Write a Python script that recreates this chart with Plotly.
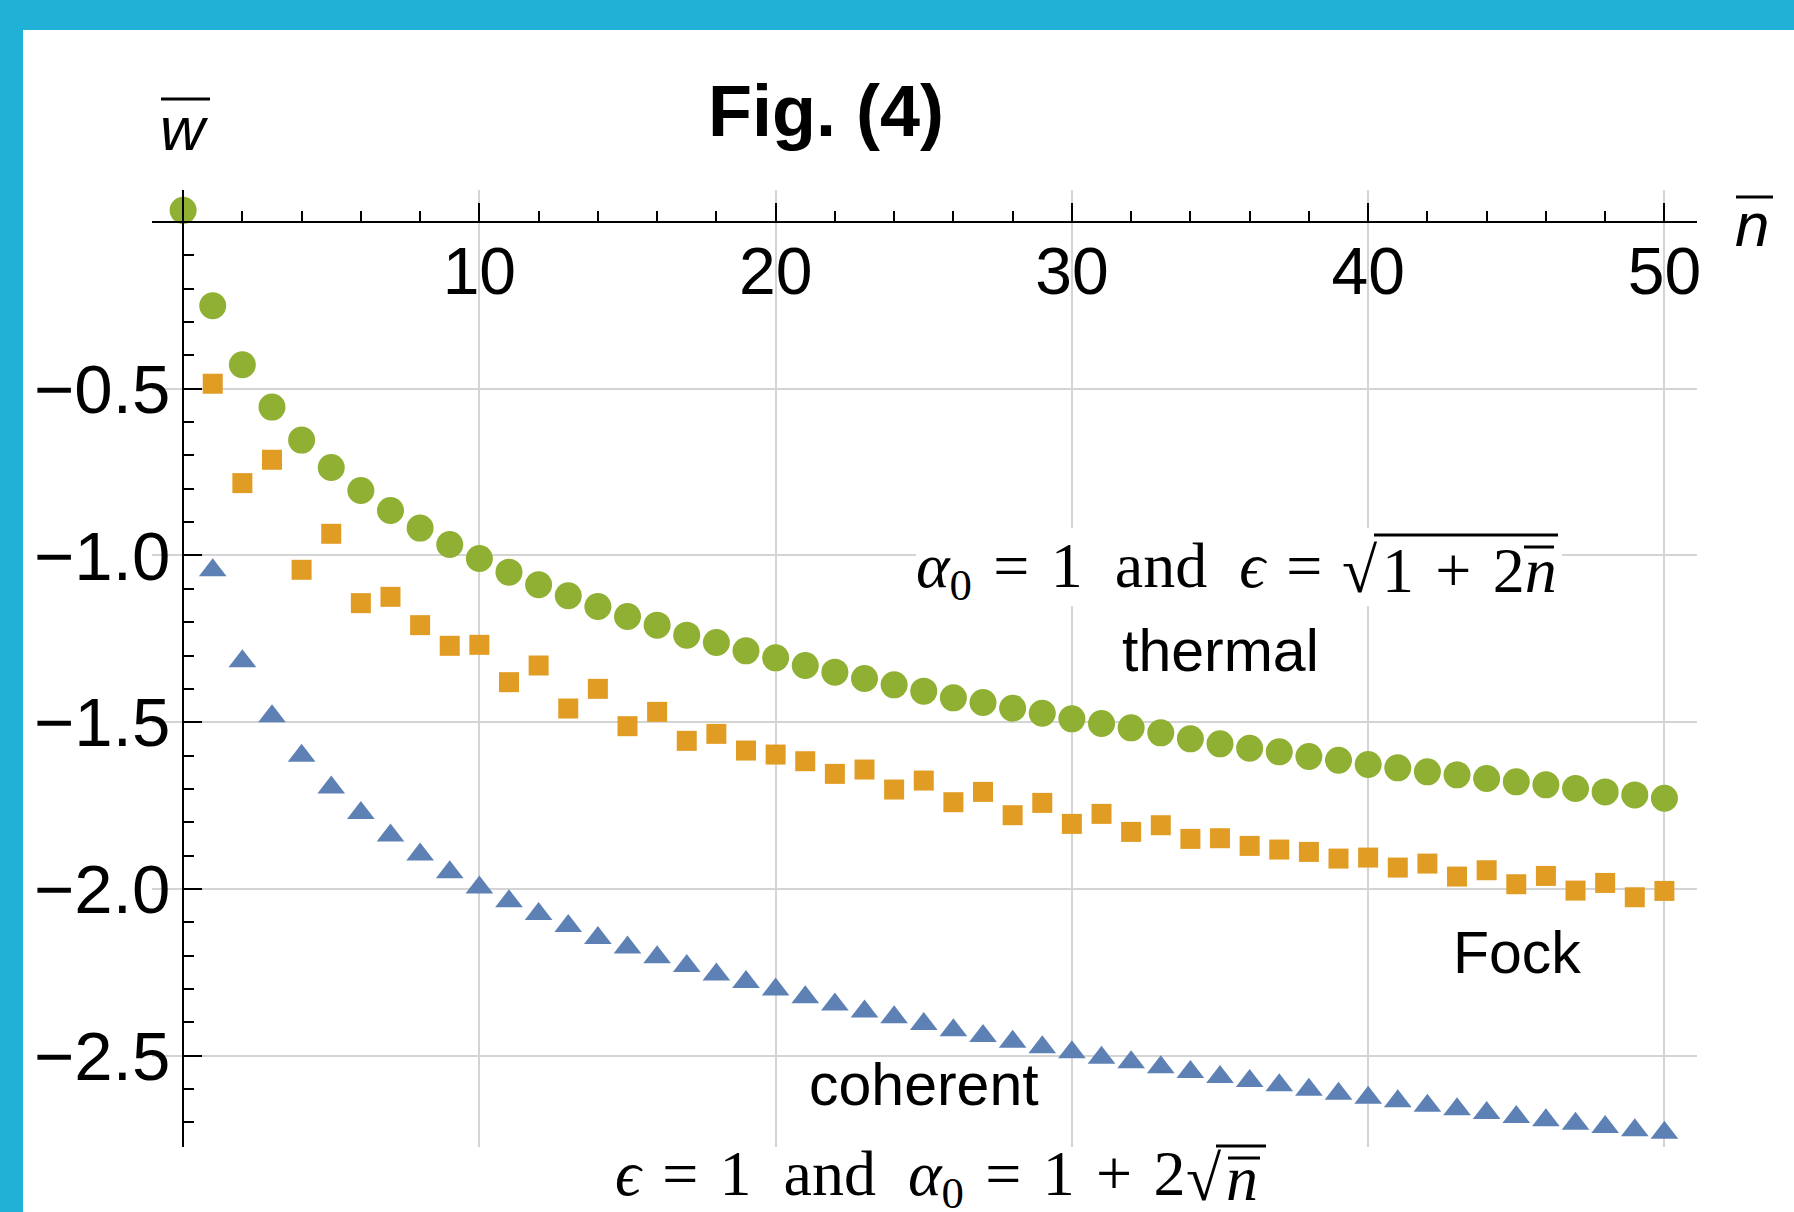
import plotly.graph_objects as go

# ---------------- data ----------------
thermal_n = list(range(0, 51))
thermal_w = [0.035, -0.251, -0.428, -0.555, -0.654, -0.736, -0.805, -0.865, -0.918, -0.967,
             -1.009, -1.050, -1.088, -1.121, -1.153, -1.183, -1.209, -1.239, -1.261, -1.286,
             -1.307, -1.330, -1.350, -1.369, -1.388, -1.407, -1.427, -1.441, -1.458, -1.473,
             -1.490, -1.504, -1.517, -1.532, -1.550, -1.565, -1.578, -1.589, -1.603, -1.614,
             -1.627, -1.637, -1.649, -1.658, -1.669, -1.679, -1.688, -1.699, -1.709, -1.718,
             -1.728]

fock_n = list(range(1, 51))
fock_w = [-0.485, -0.783, -0.713, -1.043, -0.935, -1.143, -1.124, -1.209, -1.271, -1.268,
          -1.380, -1.330, -1.459, -1.400, -1.512, -1.469, -1.556, -1.535, -1.585, -1.597,
          -1.617, -1.655, -1.642, -1.702, -1.675, -1.740, -1.709, -1.779, -1.742, -1.805,
          -1.775, -1.829, -1.809, -1.850, -1.848, -1.871, -1.882, -1.889, -1.909, -1.906,
          -1.936, -1.924, -1.963, -1.944, -1.986, -1.961, -2.005, -1.982, -2.025, -2.006]

coherent_n = list(range(1, 51))
coherent_w = [-1.044, -1.317, -1.482, -1.601, -1.696, -1.772, -1.840, -1.897, -1.950, -1.996,
              -2.037, -2.075, -2.111, -2.147, -2.176, -2.205, -2.231, -2.257, -2.279, -2.302,
              -2.325, -2.347, -2.368, -2.385, -2.405, -2.424, -2.441, -2.458, -2.475, -2.490,
              -2.506, -2.520, -2.535, -2.549, -2.564, -2.576, -2.589, -2.602, -2.614, -2.626,
              -2.637, -2.650, -2.661, -2.672, -2.684, -2.694, -2.704, -2.714, -2.724, -2.731]

x_tickvals = [10, 20, 30, 40, 50]
x_ticktext = ["10", "20", "30", "40", "50"]
y_tickvals = [-0.5, -1.0, -1.5, -2.0, -2.5]
y_ticktext = ["\u22120.5", "\u22121.0", "\u22121.5", "\u22122.0", "\u22122.5"]

# ---------------- layout geometry ----------------
W, H = 1794, 1212
L, R, T, B = 152, 97, 190, 65
PW, PH = W - L - R, H - T - B
XR = [-1.05, 51.1]
YR = [-2.774, 0.096]


def px(x):
    return (x - L) / PW


def py(y):
    return (H - B - y) / PH


BLUE = "#5E81B5"
ORANGE = "#E19C24"
GREEN = "#8FB032"
FRAME = "#22B1D6"
GRID = "#D4D4D4"
SANS = "Liberation Sans, Arial, sans-serif"
SERIF = "Liberation Serif, Times New Roman, serif"
EN = "\u2002"   # en space
TH = "\u2004"   # three-per-em space

fig = go.Figure()
fig.add_trace(go.Scatter(x=coherent_n, y=coherent_w, mode="markers", name="coherent",
                         marker=dict(symbol="triangle-up", size=24, color=BLUE), cliponaxis=False))
fig.add_trace(go.Scatter(x=fock_n, y=fock_w, mode="markers", name="Fock",
                         marker=dict(symbol="square", size=20, color=ORANGE), cliponaxis=False))
fig.add_trace(go.Scatter(x=thermal_n, y=thermal_w, mode="markers", name="thermal",
                         marker=dict(symbol="circle", size=27, color=GREEN), cliponaxis=False))

x_pos = (0 - YR[0]) / (YR[1] - YR[0])
y_pos = (0 - XR[0]) / (XR[1] - XR[0])

fig.update_layout(
    width=W, height=H,
    margin=dict(l=L, r=R, t=T, b=B, pad=0),
    paper_bgcolor="white", plot_bgcolor="white",
    showlegend=False,
    xaxis=dict(range=XR, anchor="free", position=x_pos, side="bottom",
               showline=True, linecolor="black", linewidth=2,
               ticks="inside", ticklen=18, tickwidth=2, tickcolor="black",
               tickmode="array", tickvals=x_tickvals, ticktext=x_ticktext,
               tickfont=dict(family=SANS, size=66, color="black"),
               ticklabelstandoff=-8,
               showgrid=True, gridcolor=GRID, gridwidth=2, zeroline=False,
               minor=dict(tickmode="linear", tick0=0, dtick=2, ticks="inside",
                          ticklen=10, tickwidth=2, tickcolor="black", showgrid=False)),
    yaxis=dict(range=YR, anchor="free", position=y_pos, side="left",
               showline=True, linecolor="black", linewidth=2,
               ticks="inside", ticklen=18, tickwidth=2, tickcolor="black",
               tickmode="array", tickvals=y_tickvals, ticktext=y_ticktext,
               tickfont=dict(family=SANS, size=69, color="black"),
               ticklabelstandoff=-2,
               showgrid=True, gridcolor=GRID, gridwidth=2, zeroline=False,
               minor=dict(tickmode="linear", tick0=0, dtick=0.1, ticks="inside",
                          ticklen=10, tickwidth=2, tickcolor="black", showgrid=False)),
)

# blue frame (top and left bands)
fig.add_shape(type="rect", xref="paper", yref="paper", layer="below",
              x0=px(0), x1=px(W), y0=py(30), y1=py(0), fillcolor=FRAME, line_width=0)
fig.add_shape(type="rect", xref="paper", yref="paper", layer="below",
              x0=px(0), x1=px(23), y0=py(H), y1=py(0), fillcolor=FRAME, line_width=0)
# white box behind the upper formula
fig.add_shape(type="rect", xref="paper", yref="paper", layer="above",
              x0=px(916), x1=px(1562), y0=py(606), y1=py(528), fillcolor="white", line_width=0)

ann = []
ann.append(dict(text="<b>Fig. (4)</b>", x=px(826), y=py(111),
                font=dict(family=SANS, size=72, color="black")))
ann.append(dict(text="<i>w</i>", x=px(184), y=py(129),
                font=dict(family=SANS, size=62, color="black")))
ann.append(dict(text="<i>n</i>", x=px(1752), y=py(224),
                font=dict(family=SANS, size=62, color="black")))
ann.append(dict(text="thermal", x=px(1220), y=py(651),
                font=dict(family=SANS, size=59, color="black")))
ann.append(dict(text="Fock", x=px(1517), y=py(953),
                font=dict(family=SANS, size=59, color="black")))
ann.append(dict(text="coherent", x=px(924), y=py(1085),
                font=dict(family=SANS, size=59, color="black")))

# upper formula: alpha_0 = 1 and epsilon = sqrt(1 + 2 n)
ann.append(dict(text=f"<i>\u03b1</i><sub>0</sub>{TH}={TH}1{EN}and{EN}<i>\u03f5</i>{TH}=",
                x=px(1324), y=py(570), xanchor="right",
                font=dict(family=SERIF, size=64, color="black")))
ann.append(dict(text="\u221a", x=px(1380), y=py(570), xanchor="right",
                font=dict(family=SERIF, size=64, color="black")))
ann.append(dict(text=f"1{TH}+{TH}2<i>n</i>", x=px(1380), y=py(570), xanchor="left",
                font=dict(family=SERIF, size=64, color="black")))
# lower formula: epsilon = 1 and alpha_0 = 1 + 2 sqrt(n)
ann.append(dict(text=f"<i>\u03f5</i>{TH}={TH}1{EN}and{EN}<i>\u03b1</i><sub>0</sub>{TH}={TH}1{TH}+{TH}2",
                x=px(1188), y=py(1178), xanchor="right",
                font=dict(family=SERIF, size=64, color="black")))
ann.append(dict(text="\u221a", x=px(1224), y=py(1178), xanchor="right",
                font=dict(family=SERIF, size=64, color="black")))
ann.append(dict(text="<i>n</i>", x=px(1224), y=py(1178), xanchor="left",
                font=dict(family=SERIF, size=64, color="black")))

for a in ann:
    a.update(xref="paper", yref="paper", showarrow=False)
    a.setdefault("xanchor", "center")
    a.setdefault("yanchor", "middle")
fig.update_layout(annotations=ann)

# overbars / vinculums
bars = [(161, 210, 99), (1736, 1773, 197), (1374, 1558, 535), (1216, 1266, 1146),
        (1524, 1554, 547), (1228, 1260, 1158)]
for x0, x1, yy in bars:
    fig.add_shape(type="line", xref="paper", yref="paper",
                  x0=px(x0), x1=px(x1), y0=py(yy), y1=py(yy),
                  line=dict(color="black", width=3))

fig.write_html("out.html")
